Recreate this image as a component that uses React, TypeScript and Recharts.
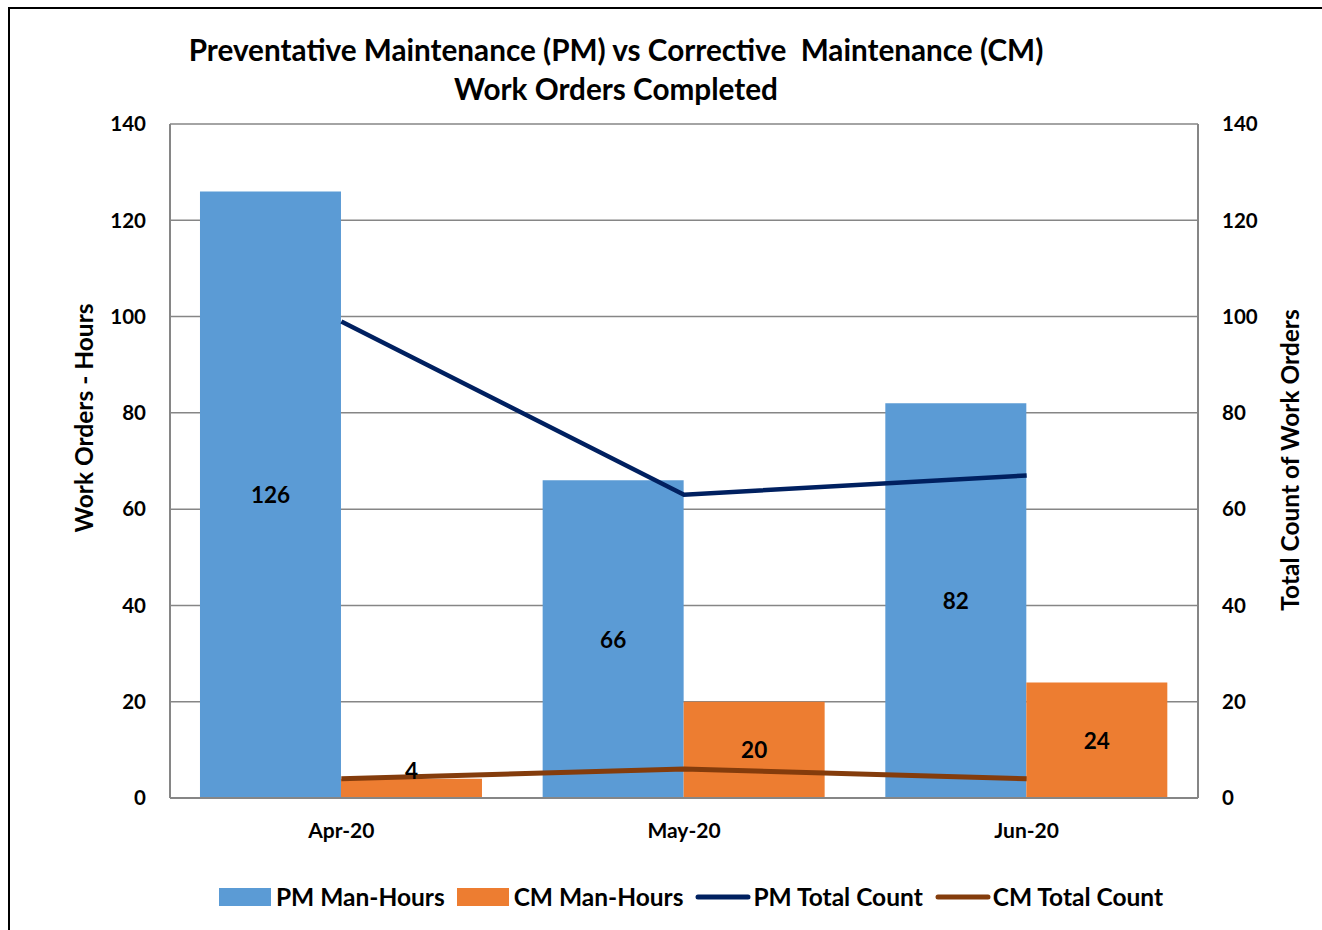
import React from 'react';
import { ComposedChart, Bar, Line, XAxis, YAxis, CartesianGrid, Legend, LabelList } from 'recharts';

const months = ['Apr-20', 'May-20', 'Jun-20'];
const pmManHours = [126, 66, 82];
const cmManHours = [4, 20, 24];
const pmTotalCount = [99, 63, 67];
const cmTotalCount = [4, 6, 4];
const yTicks = [0, 20, 40, 60, 80, 100, 120, 140];

const seriesNames = {
  pmHours: 'PM Man-Hours',
  cmHours: 'CM Man-Hours',
  pmCount: 'PM Total Count',
  cmCount: 'CM Total Count',
};

const data = months.map((m, i) => ({
  month: m,
  pmHours: pmManHours[i],
  cmHours: cmManHours[i],
  pmCount: pmTotalCount[i],
  cmCount: cmTotalCount[i],
}));

const FONT = 'Lato, "Open Sans", sans-serif';
const BLUE = '#5B9BD5';
const ORANGE = '#ED7D31';
const NAVY = '#002060';
const BROWN = '#843C0C';
const GRID = '#868686';

const barLabel = (props: any) => {
  const { x, y, width, height, value } = props;
  const cy = height < 30 ? y - 8 : y + height / 2;
  return (
    <text
      x={x + width / 2}
      y={cy}
      textAnchor="middle"
      dominantBaseline="central"
      fontFamily={FONT}
      fontWeight={700}
      fontSize={22.5}
      fill="#000"
    >
      {value}
    </text>
  );
};

const legendItems = [
  { key: 'pmHours', type: 'rect', color: BLUE },
  { key: 'cmHours', type: 'rect', color: ORANGE },
  { key: 'pmCount', type: 'line', color: NAVY },
  { key: 'cmCount', type: 'line', color: BROWN },
];

const renderLegend = () => (
  <div style={{ display: 'flex', justifyContent: 'center', alignItems: 'center', fontFamily: FONT, fontWeight: 700, fontSize: 24.5, color: '#000' }}>
    {legendItems.map((it, i) => (
      <div key={it.key} style={{ display: 'flex', alignItems: 'center', marginRight: i === legendItems.length - 1 ? 0 : 12 }}>
        {it.type === 'rect' ? (
          <svg width={52} height={18} style={{ marginRight: 5 }}>
            <rect x={0} y={0} width={52} height={18} fill={it.color} />
          </svg>
        ) : (
          <svg width={56} height={10} style={{ marginRight: 2 }}>
            <line x1={3} y1={5} x2={53} y2={5} stroke={it.color} strokeWidth={5} strokeLinecap="round" />
          </svg>
        )}
        <span>{(seriesNames as any)[it.key]}</span>
      </div>
    ))}
  </div>
);

export default function App() {
  const tickStyle = { fontFamily: FONT, fontWeight: 700, fontSize: 20.5, fill: '#000' };
  return (
    <div style={{ position: 'fixed', left: 0, top: 0, width: 1322, height: 930, overflow: 'hidden', background: '#fff' }}>
      <div style={{ position: 'absolute', left: 8, top: 7, width: 1340, height: 960, border: '2px solid #000', boxSizing: 'border-box' }} />
      <ComposedChart
        width={1322}
        height={930}
        data={data}
        margin={{ top: 124, right: 14, bottom: 72, left: 0 }}
        barCategoryGap="8.75%"
        barGap={0}
        style={{ position: 'absolute', left: 0, top: 0 }}
      >
        <CartesianGrid vertical={false} yAxisId="left" stroke={GRID} strokeWidth={1.5} />
        <XAxis
          dataKey="month"
          tickLine={false}
          tickSize={0}
          tickMargin={25}
          axisLine={{ stroke: GRID, strokeWidth: 2 }}
          tick={{ ...tickStyle, fontSize: 21 }}
          height={60}
        />
        <YAxis
          yAxisId="left"
          width={170}
          domain={[0, 140]}
          ticks={yTicks}
          tickLine={false}
          tickSize={0}
          tickMargin={24}
          axisLine={{ stroke: GRID, strokeWidth: 2 }}
          tick={tickStyle}
        />
        <YAxis
          yAxisId="right"
          orientation="right"
          width={110}
          domain={[0, 140]}
          ticks={yTicks}
          tickLine={false}
          tickSize={0}
          tickMargin={24}
          axisLine={{ stroke: GRID, strokeWidth: 2 }}
          tick={tickStyle}
        />
        <Legend
          layout="horizontal"
          verticalAlign="middle"
          align="center"
          content={renderLegend}
          wrapperStyle={{ top: 882, left: 30, width: 1322 }}
        />
        <Bar yAxisId="left" dataKey="pmHours" name={seriesNames.pmHours} fill={BLUE} isAnimationActive={false}>
          <LabelList dataKey="pmHours" content={barLabel} />
        </Bar>
        <Bar yAxisId="left" dataKey="cmHours" name={seriesNames.cmHours} fill={ORANGE} isAnimationActive={false}>
          <LabelList dataKey="cmHours" content={barLabel} />
        </Bar>
        <Line yAxisId="right" type="linear" dataKey="pmCount" name={seriesNames.pmCount} stroke={NAVY} strokeWidth={4.5} dot={false} activeDot={false} isAnimationActive={false} />
        <Line yAxisId="right" type="linear" dataKey="cmCount" name={seriesNames.cmCount} stroke={BROWN} strokeWidth={5} dot={false} activeDot={false} isAnimationActive={false} />
      </ComposedChart>
      <div
        style={{
          position: 'absolute',
          left: 0,
          top: 30,
          width: 1232,
          textAlign: 'center',
          fontFamily: FONT,
          fontWeight: 700,
          fontSize: 29.7,
          lineHeight: '39px',
          color: '#000',
          whiteSpace: 'pre',
        }}
      >
        {'Preventative Maintenance (PM) vs Corrective  Maintenance (CM)\nWork Orders Completed'}
      </div>
      <div
        style={{
          position: 'absolute',
          left: 84 - 200,
          top: 418 - 15,
          width: 400,
          height: 30,
          lineHeight: '30px',
          textAlign: 'center',
          transform: 'rotate(-90deg)',
          fontFamily: FONT,
          fontWeight: 700,
          fontSize: 24.5,
          color: '#000',
        }}
      >
        Work Orders - Hours
      </div>
      <div
        style={{
          position: 'absolute',
          left: 1290 - 200,
          top: 460 - 15,
          width: 400,
          height: 30,
          lineHeight: '30px',
          textAlign: 'center',
          transform: 'rotate(-90deg)',
          fontFamily: FONT,
          fontWeight: 700,
          fontSize: 24.5,
          color: '#000',
        }}
      >
        Total Count of Work Orders
      </div>
    </div>
  );
}
